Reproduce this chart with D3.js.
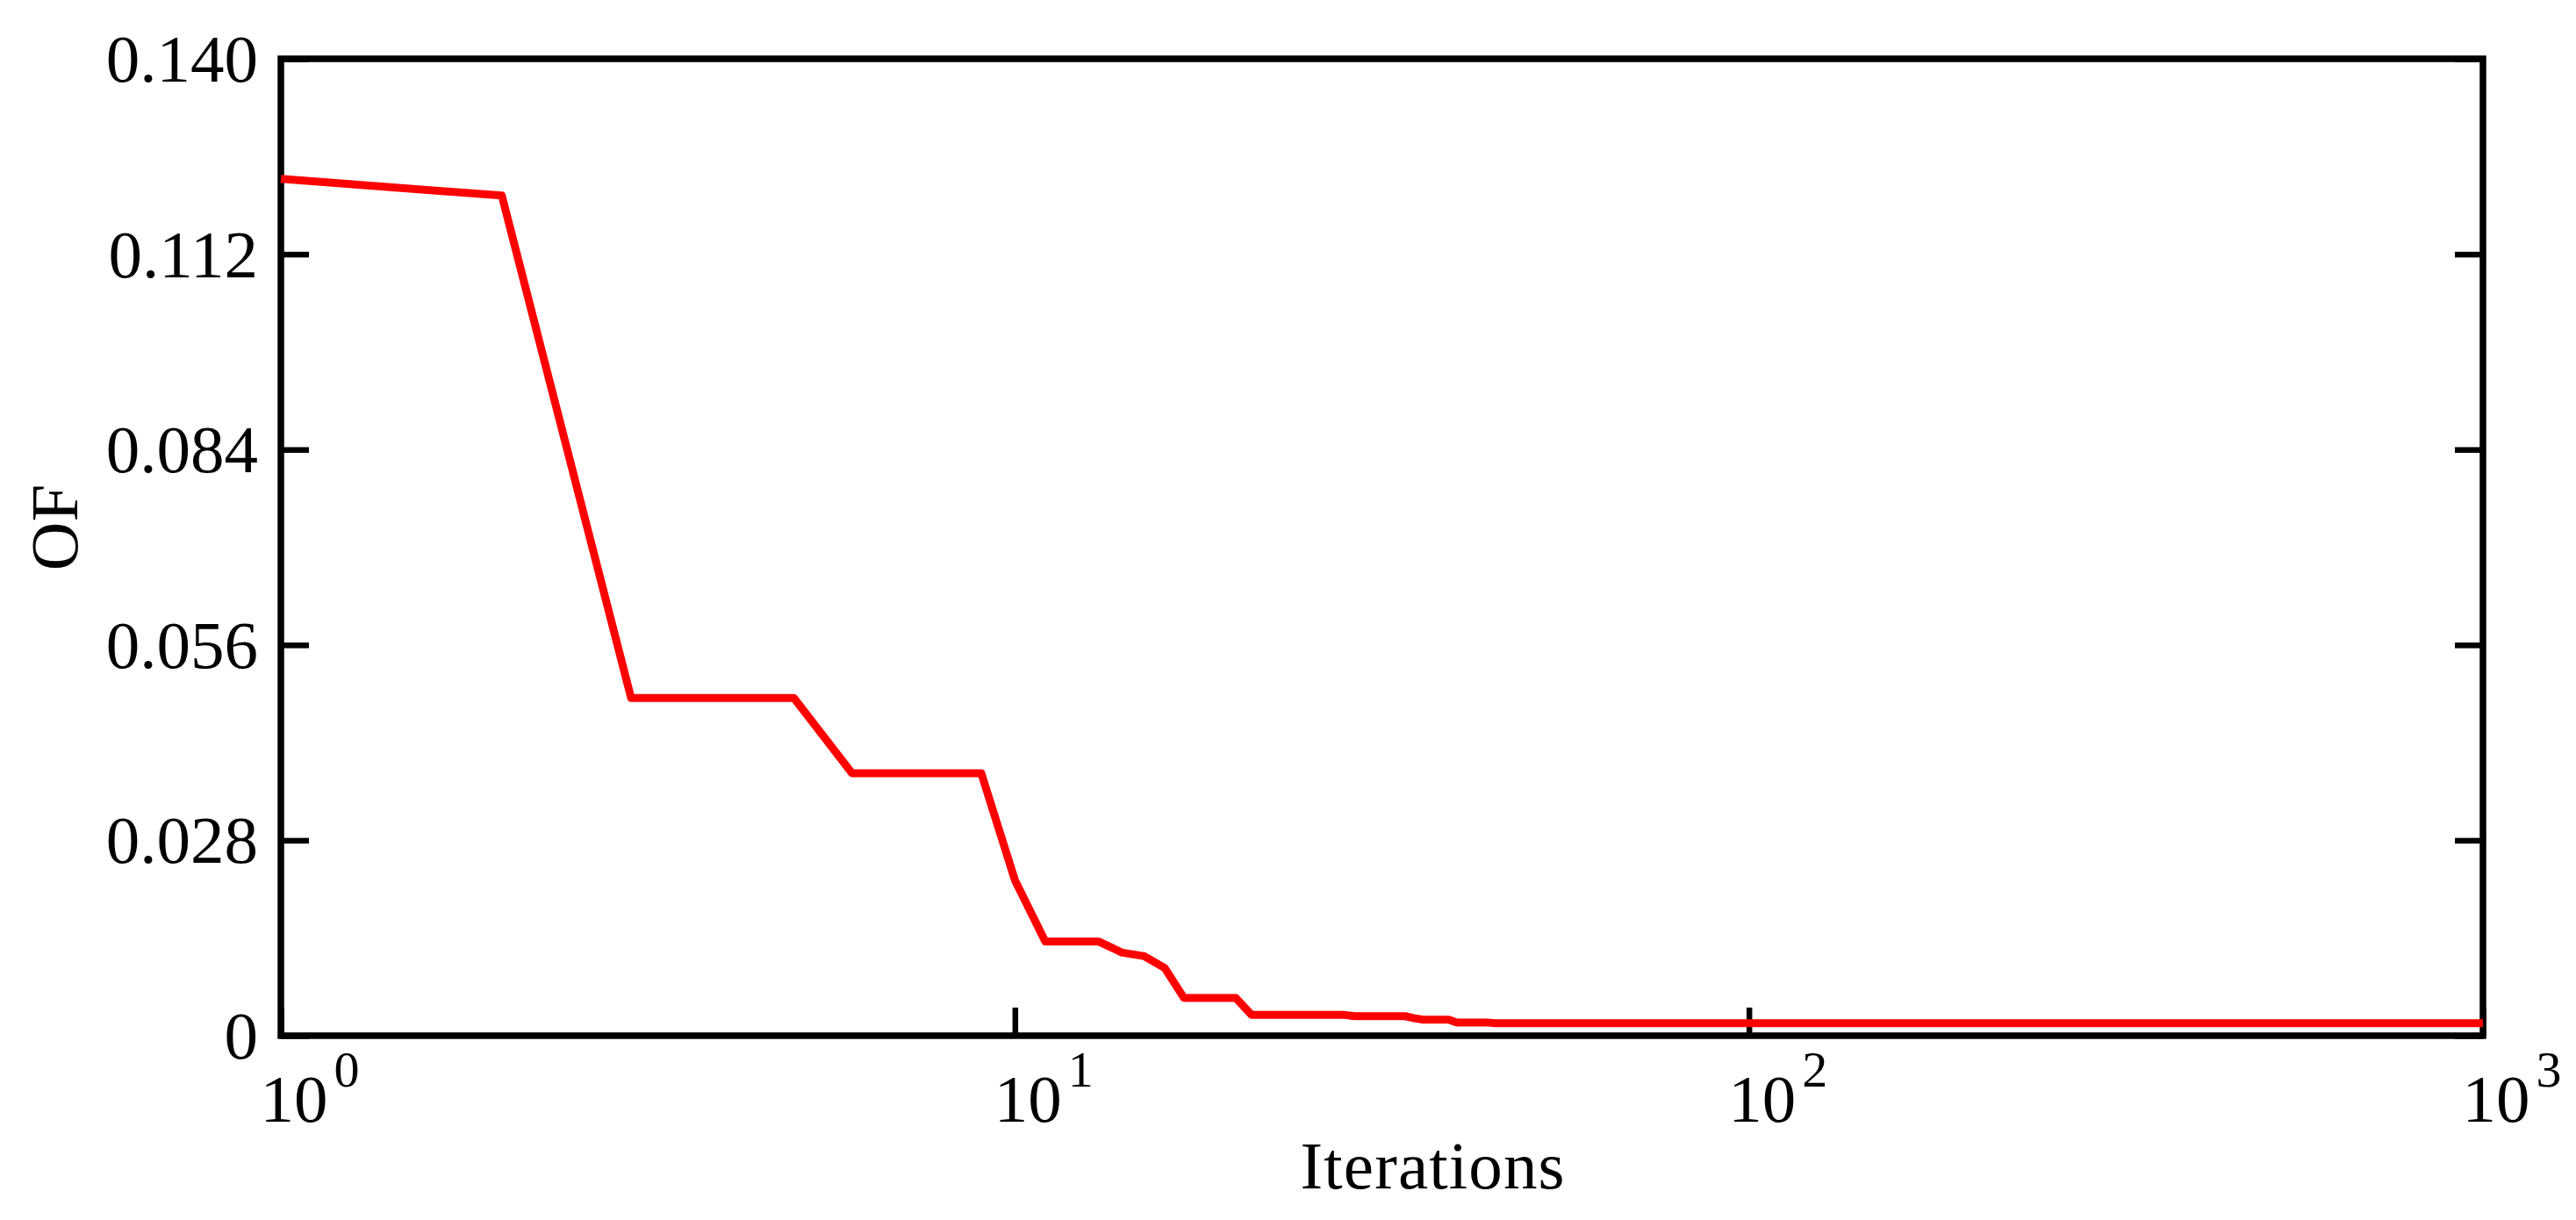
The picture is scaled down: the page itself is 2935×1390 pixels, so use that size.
<!DOCTYPE html>
<html>
<head>
<meta charset="utf-8">
<script src="https://cdn.jsdelivr.net/npm/d3@7"></script>
<style>
  html, body { margin: 0; padding: 0; background: #fff; }
  svg { display: block; }
  text { font-family: "Liberation Serif", "Times New Roman", serif; fill: #000; }
</style>
</head>
<body>
<svg id="chart" width="2935" height="1390"></svg>
<script>
// ---- data ----
const iterations = [1, 2, 3, 5, 6, 9, 10, 11, 13, 14, 15, 16, 17, 20, 21, 28, 29, 34, 35, 36, 39, 40, 44, 45, 1000];
const ofValues   = [0.1228, 0.1204, 0.0484, 0.0484, 0.0376, 0.0376, 0.0223, 0.0135, 0.0135, 0.0119, 0.0114, 0.0097, 0.0054, 0.0054, 0.0030, 0.0030, 0.0028, 0.0028, 0.0025, 0.0023, 0.0023, 0.0019, 0.0019, 0.0018, 0.0018];
const yTicks = [0, 0.028, 0.056, 0.084, 0.112, 0.140];
const yTickLabels = ["0", "0.028", "0.056", "0.084", "0.112", "0.140"];
const xTicks = [1, 10, 100, 1000];
const xTickExponents = ["0", "1", "2", "3"];
const xLabel = "Iterations";
const yLabel = "OF";

// ---- layout ----
const L = 320, R = 2829, T = 67, B = 1180;
const svg = d3.select("#chart");
const x = d3.scaleLog().domain([1, 1000]).range([L, R]);
const y = d3.scaleLinear().domain([0, 0.14]).range([B, T]);
const FS = 77;

// left axis
const gl = svg.append("g").attr("transform", `translate(${L},0)`)
  .call(d3.axisLeft(y).tickValues(yTicks).tickSize(-32).tickSizeOuter(0).tickPadding(26)
    .tickFormat((d, i) => yTickLabels[i]));
gl.selectAll("text").style("font-size", FS + "px").attr("dy", "0.33em");

// right axis
const gr = svg.append("g").attr("transform", `translate(${R},0)`)
  .call(d3.axisRight(y).tickValues(yTicks).tickSize(-32).tickSizeOuter(0).tickFormat(""));

// bottom axis
const gb = svg.append("g").attr("transform", `translate(0,${B})`)
  .call(d3.axisBottom(x).tickValues(xTicks).tickSize(-32).tickSizeOuter(0).tickFormat(""));
gb.selectAll(".tick text").remove();
gb.selectAll(".tick").each(function(d, i) {
  const t = d3.select(this).append("text")
    .attr("x", -24).attr("y", 98)
    .attr("text-anchor", "start")
    .style("font-size", FS + "px");
  t.append("tspan").text("10");
  t.append("tspan").attr("dx", 7).attr("dy", -40).style("font-size", "58px").text(xTickExponents[i]);
});

[gl, gr, gb].forEach(g => {
  g.selectAll(".domain").remove();
  g.selectAll(".tick line").attr("stroke", "#000").attr("stroke-width", 6.5);
});

// frame
svg.append("rect")
  .attr("x", x(1)).attr("y", y(0.14))
  .attr("width", x(1000) - x(1)).attr("height", y(0) - y(0.14))
  .attr("fill", "none").attr("stroke", "#000").attr("stroke-width", 7.5);

// line
const pts = iterations.map((d, i) => [d, ofValues[i]]);
svg.append("path")
  .datum(pts)
  .attr("fill", "none")
  .attr("stroke", "#ff0000")
  .attr("stroke-width", 9)
  .attr("stroke-linejoin", "round")
  .attr("d", d3.line().x(d => x(d[0])).y(d => y(d[1])));

// axis labels
svg.append("text")
  .attr("x", 1632).attr("y", 1354)
  .attr("text-anchor", "middle")
  .attr("textLength", 301).attr("lengthAdjust", "spacing")
  .style("font-size", FS + "px")
  .text(xLabel);

svg.append("text")
  .attr("transform", "translate(88,601) rotate(-90)")
  .attr("text-anchor", "middle")
  .style("font-size", FS + "px")
  .text(yLabel);
</script>
</body>
</html>
